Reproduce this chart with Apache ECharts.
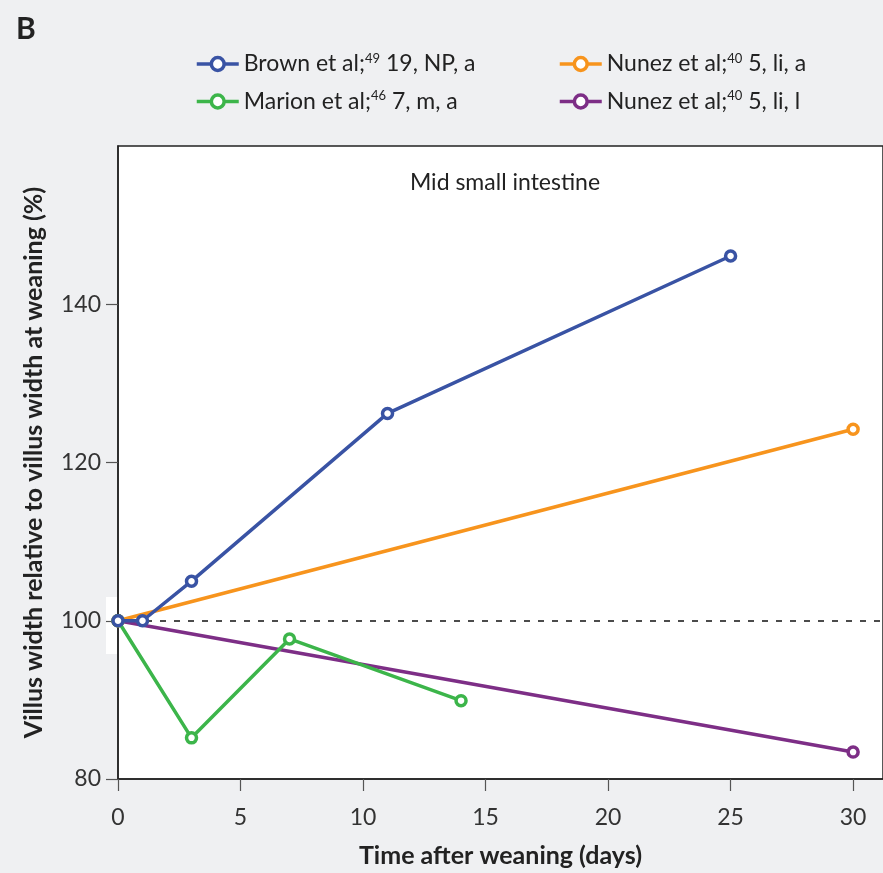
<!DOCTYPE html>
<html><head><meta charset="utf-8">
<script src="https://cdn.jsdelivr.net/npm/echarts@6/dist/echarts.min.js"></script>
<style>html,body{margin:0;padding:0;background:#eff0f2}#c{width:883px;height:873px}</style>
</head><body><div id="c"></div>
<script>
const seriesNames = ['Brown', 'Marion', 'NunezA', 'NunezL'];
const brownX = [0, 1, 3, 11, 25];
const brownY = [100, 100, 105, 126.2, 146.1];
const marionX = [0, 3, 7, 14];
const marionY = [100, 85.2, 97.7, 89.9];
const nunezAX = [0, 30];
const nunezAY = [100, 124.2];
const nunezLX = [0, 30];
const nunezLY = [100, 83.4];
const xTicks = [0, 5, 10, 15, 20, 25, 30];
const yTicks = [80, 100, 120, 140];
const referenceY = 100;

const colors = {Brown:'#3953a4', Marion:'#3cb54a', NunezA:'#f7941d', NunezL:'#7d2e86'};
const legendText = {
  Brown: '{t|Brown et al;}{s|49}{t| 19, NP, a}',
  Marion: '{t|Marion et al;}{s|46}{t| 7, m, a}',
  NunezA: '{t|Nunez et al;}{s|40}{t| 5, li, a}',
  NunezL: '{t|Nunez et al;}{s|40}{t| 5, li, l}'
};
function zip(xs, ys){ return xs.map((x,i)=>[x, ys[i]]); }
const dataMap = {
  Brown: zip(brownX, brownY), Marion: zip(marionX, marionY),
  NunezA: zip(nunezAX, nunezAY), NunezL: zip(nunezLX, nunezLY)
};
const FONT = 'Lato';
const legendCommon = {
  orient: 'vertical', top: 47, itemWidth: 42, itemHeight: 16, itemGap: 14,
  formatter: n => legendText[n],
  lineStyle: {width: 3.5},
  itemStyle: {borderWidth: 3.5},
  textStyle: {
    fontFamily: FONT, fontSize: 23, color: '#222',
    rich: {
      t: {fontFamily: FONT, fontSize: 23, color: '#222', lineHeight: 24},
      s: {fontFamily: FONT, fontSize: 13, color: '#222', verticalAlign: 'top', lineHeight: 24}
    }
  }
};
const chart = echarts.init(document.getElementById('c'), null, {renderer:'canvas'});
chart.setOption({
  backgroundColor: '#eff0f2',
  animation: false,
  title: {text: 'B', left: 11, top: 9, textStyle: {fontFamily: FONT, fontWeight: 'bold', fontSize: 30, color: '#222'}},
  legend: [
    Object.assign({}, legendCommon, {left: 190, data: ['Brown', 'Marion']}),
    Object.assign({}, legendCommon, {left: 553, data: ['NunezA', 'NunezL']})
  ],
  grid: {left: 118, top: 146, right: 0, bottom: 93, show: true, backgroundColor: '#fff', borderColor: '#222', borderWidth: 1.5},
  xAxis: {
    type: 'value', min: 0, max: 31.22,
    name: 'Time after weaning (days)', nameLocation: 'middle', nameGap: 64,
    nameTextStyle: {fontFamily: FONT, fontWeight: 'bold', fontSize: 25, color: '#222'},
    axisLine: {lineStyle: {color: '#222', width: 1.5}},
    axisTick: {length: 12, lineStyle: {color: '#555', width: 1.2}, customValues: xTicks},
    axisLabel: {fontFamily: FONT, fontSize: 23, color: '#333', margin: 27, customValues: xTicks},
    splitLine: {show: false}
  },
  yAxis: {
    type: 'value', min: 80, max: 160,
    name: 'Villus width relative to villus width at weaning (%)', nameLocation: 'middle', nameGap: 72,
    nameTextStyle: {fontFamily: FONT, fontWeight: 'bold', fontSize: 25, color: '#222'},
    axisLine: {lineStyle: {color: '#222', width: 1.5}},
    axisTick: {length: 12, lineStyle: {color: '#555', width: 1.2}, customValues: yTicks},
    axisLabel: {fontFamily: FONT, fontSize: 23, color: '#333', margin: 17, customValues: yTicks},
    splitLine: {show: false}
  },
  graphic: [
    {type: 'rect', z: 0, shape: {x: 106, y: 597, width: 11, height: 57}, style: {fill: '#fff'}},
    {type: 'text', z: 5, style: {text: 'Mid small intestine', fontFamily: FONT, fontSize: 23, fill: '#222', x: 505, y: 183, textAlign: 'center', textVerticalAlign: 'middle'}}
  ],
  series: seriesNames.map((n, i) => ({
    name: n, type: 'line', data: dataMap[n],
    symbol: 'circle', symbolSize: 10, showAllSymbol: true,
    z: 10 - i,
    color: colors[n],
    lineStyle: {color: colors[n], width: 3.5},
    itemStyle: {color: '#fff', borderColor: colors[n], borderWidth: 3.5},
    markLine: i === 0 ? {
      silent: true, symbol: 'none', label: {show: false},
      lineStyle: {color: '#111', type: [6, 8], width: 1.5},
      data: [{yAxis: referenceY}]
    } : undefined
  }))
});
</script></body></html>
